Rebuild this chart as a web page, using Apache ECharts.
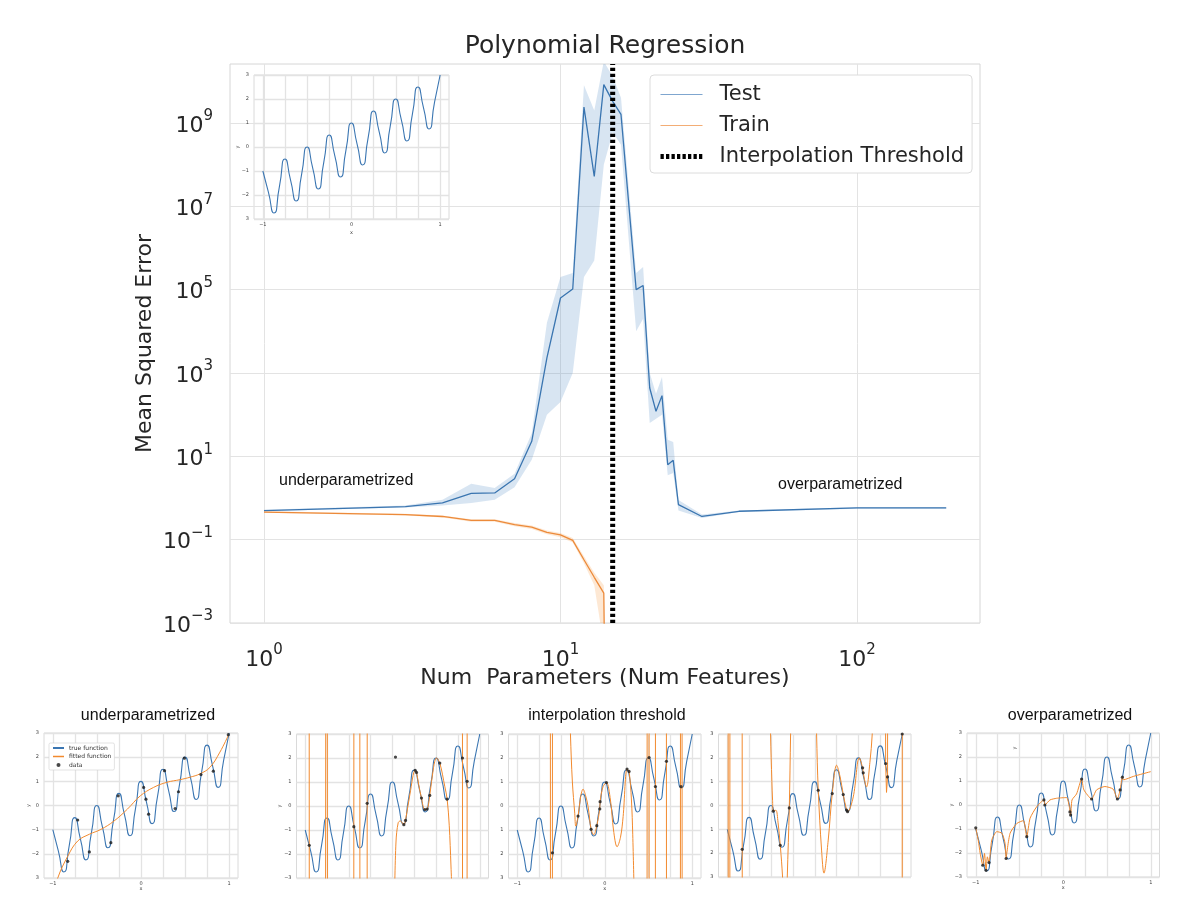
<!doctype html>
<html>
<head>
<meta charset="utf-8">
<title>Polynomial Regression</title>
<script src="https://cdn.jsdelivr.net/npm/echarts@6/dist/echarts.min.js"></script>
<style>
  html, body { margin: 0; padding: 0; background: #fff; }
  #main { width: 1200px; height: 911px; }
</style>
</head>
<body>
<div id="main"></div>
<script>
// ---- main plot: MSE vs number of parameters ----
var testX = [1, 3, 4, 5, 6, 7, 8, 9, 10, 11, 12, 13, 14, 15, 16, 18, 19, 20, 21, 22, 23, 24, 25, 30, 40, 100, 200];
var testY = [0.50, 0.62, 0.76, 1.29, 1.32, 2.9, 22.9, 2300, 6.3e4, 1.04e5, 2.4e9, 5.2e7, 8.3e9, 3.3e9, 1.6e9, 1.0e5, 1.26e5, 436, 120, 286, 6.3, 8, 0.69, 0.36, 0.48, 0.58, 0.58];
var testLow = [0.48, 0.59, 0.66, 0.76, 0.91, 1.8, 8.3, 100, 200, 1e3, 2e5, 5e5, 1e8, 6e8, 3e8, 1e4, 2e4, 63, 80, 100, 3.5, 4, 0.5, 0.33, 0.46, 0.55, 0.55];
var testHigh = [0.52, 0.66, 0.91, 2.2, 1.74, 3.8, 36, 1.6e4, 2e5, 2.5e5, 8e9, 2e9, 3e10, 1.3e10, 4e9, 2.5e5, 3.5e5, 1e3, 316, 800, 25, 22, 0.9, 0.4, 0.5, 0.6, 0.6];

var trainX = [1, 3, 4, 5, 6, 7, 8, 9, 10, 11, 12, 13, 14, 15];
var trainY = [0.46, 0.40, 0.36, 0.29, 0.29, 0.23, 0.20, 0.15, 0.13, 0.096, 0.033, 0.0125, 0.0052, 1e-20];
var trainLow = [0.44, 0.38, 0.34, 0.27, 0.27, 0.21, 0.18, 0.135, 0.115, 0.085, 0.027, 0.008, 0.0003, 1e-25];
var trainHigh = [0.48, 0.42, 0.38, 0.31, 0.31, 0.25, 0.22, 0.165, 0.145, 0.11, 0.04, 0.016, 0.008, 1e-15];

var thresholdX = 15;
var mainXRange = [0.768, 260];
var mainYRange = [1e-3, 2.6e10];
var mainXTicks = [1, 10, 100];
var mainYTicks = [1e-3, 1e-1, 1e1, 1e3, 1e5, 1e7, 1e9];

// ---- small plots: true function, fits and data ----
var trueX = [-1, -0.9375, -0.875, -0.8125, -0.75, -0.6875, -0.625, -0.5625, -0.5, -0.4375, -0.375, -0.3125, -0.25, -0.1875, -0.125, -0.0625, 0,
             0.0625, 0.125, 0.1875, 0.25, 0.3125, 0.375, 0.4375, 0.5, 0.5625, 0.625, 0.6875, 0.75, 0.8125, 0.875, 0.9375, 1];
var trueY = [-1, -1.88, -2.75, -1.63, -0.5, -1.38, -2.25, -1.13, 0, -0.88, -1.75, -0.63, 0.5, -0.38, -1.25, -0.13, 1,
             0.13, -0.75, 0.38, 1.5, 0.63, -0.25, 0.88, 2, 1.13, 0.25, 1.38, 2.5, 1.63, 0.75, 1.88, 3];

var fit1X = [-0.98, -0.944, -0.831, -0.718, -0.586, -0.455, -0.305, -0.154, -0.008, 0.143, 0.293, 0.444, 0.556, 0.669, 0.782, 0.895, 0.99];
var fit1Y = [-3.6, -3.0, -2.1, -1.47, -1.19, -0.99, -0.64, -0.15, 0.40, 0.75, 0.96, 1.07, 1.17, 1.31, 1.58, 2.21, 2.9];
var dots1X = [-0.831, -0.718, -0.586, -0.342, -0.259, 0.03, 0.056, 0.086, 0.267, 0.387, 0.425, 0.492, 0.68, 0.82, 0.99];
var dots1Y = [-2.31, -0.60, -1.92, -1.54, 0.40, 0.75, 0.26, -0.36, 1.44, -0.125, 0.57, 1.96, 1.28, 1.42, 2.93];

var spikes2X = [-0.958, -0.950, null, -0.776, -0.756, -0.736, null, -0.447, -0.439, null, -0.378, -0.370, null, -0.294, -0.286, null, 0.798, 0.806, null, 0.851, 0.859];
var spikes2Y = [40, -40, null, -40, 40, -40, null, -40, 40, null, 40, -40, null, -40, 40, null, 40, -40, null, -40, 40];
var fit2X = [0.022, 0.04, 0.065, 0.09, 0.13, 0.149, 0.2, 0.26, 0.275, 0.30, 0.332, 0.37, 0.397, 0.427, 0.47, 0.504, 0.542, 0.60, 0.626, 0.65, 0.67, 0.69];
var fit2Y = [-4, -1.5, -0.7, -0.62, -0.78, -0.6, 0.5, 1.49, 1.40, 0.9, 0.33, -0.15, -0.13, 0.44, 1.6, 2.0, 1.79, 0.8, 0.29, -0.8, -2.5, -4.5];
var dots2X = [-0.954, -0.443, -0.29, 0.034, 0.13, 0.149, 0.26, 0.275, 0.332, 0.37, 0.397, 0.427, 0.542, 0.626, 0.802, 0.855];
var dots2Y = [-1.64, -0.86, 0.11, 2.04, -0.78, -0.6, 1.49, 1.40, 0.33, -0.15, -0.13, 0.44, 1.79, 0.29, 2.0, 1.03];

var spikes3X = [-0.625, -0.617, null, -0.602, -0.594, null, 0.480, 0.488, null, 0.503, 0.511, null, 0.575, 0.583, null, 0.701, 0.709, null, 0.861, 0.869, null, 0.880, 0.888];
var spikes3Y = [40, -40, null, -40, 40, null, -40, 40, null, 40, -40, null, -40, 40, null, 40, -40, null, -40, 40, null, 40, -40];
var fit3X = [-0.40, -0.392, -0.37, -0.343, -0.331, -0.305, -0.275, -0.248, -0.22, -0.19, -0.156, -0.126, -0.091, -0.057, -0.053, -0.02, 0.019, 0.065, 0.10, 0.141, 0.18, 0.21, 0.255, 0.278, 0.305, 0.32, 0.335];
var fit3Y = [4.5, 3.0, 1.0, -0.3, -0.84, -0.42, 0.4, 0.70, 0.45, -0.03, -0.97, -1.2, -0.82, -0.12, 0.18, 0.8, 0.98, 0.25, -1.0, -1.7, -1.3, -0.44, 1.54, 1.44, 0.25, -1.2, -3.5];
var dots3X = [-0.598, -0.305, -0.156, -0.091, -0.057, -0.053, 0.019, 0.255, 0.278, 0.507, 0.579, 0.705, 0.872];
var dots3Y = [-1.95, -0.42, -0.97, -0.82, -0.12, 0.18, 0.98, 1.54, 1.44, 2.02, 0.81, 1.86, 0.81];

var spikes4X = [-0.993, -0.985, null, -0.974, -0.966, null, -0.833, -0.825, null, 0.800, 0.810, 0.820, 0.832, 0.842, null, 0.997, 1.003];
var spikes4Y = [40, -40, null, -40, 40, null, 40, -40, null, 40, 1.76, 0.55, 1.20, 40, null, -40, 40];
var fit4X = [-0.512, -0.505, -0.49, -0.482, -0.474, -0.444, -0.42, -0.394, -0.368, -0.36, null,
             -0.32, -0.314, -0.291, -0.276, -0.27, null,
             0.015, 0.021, 0.04, 0.078, 0.105, 0.154, 0.2, 0.25, 0.29, 0.326, 0.364, 0.375, 0.44, 0.509, 0.547, 0.554, 0.592, 0.63, 0.657, 0.67];
var fit4Y = [5, 3, 1.0, 0.22, -0.24, -0.2, -0.7, -1.67, -3.0, -4, null,
             -4, -3, -0.1, 3, 4, null,
             4.5, 3, 0.64, -1.87, -2.84, -1.45, 0.5, 1.69, 1.2, 0.46, -0.19, -0.26, 0.36, 2.0, 1.58, 1.37, 0.78, 1.8, 3, 4.5];
var dots4X = [-0.829, -0.474, -0.394, -0.291, 0.040, 0.200, 0.326, 0.364, 0.375, 0.547, 0.554, 0.810, 0.832, 1.0];
var dots4Y = [-1.84, -0.24, -1.67, -0.10, 0.64, 0.50, 0.46, -0.19, -0.26, 1.58, 1.37, 1.76, 1.20, 3.0];

var fit5X = [-1, -0.97, -0.95, -0.92, -0.9, -0.882, -0.867, -0.848, -0.817, -0.76, -0.70, -0.665, -0.653, -0.645, -0.608, -0.531, -0.455, -0.417, -0.379, -0.303,
             -0.221, -0.21, -0.152, -0.076, 0.038, 0.069, 0.084, 0.1, 0.152, 0.21, 0.236, 0.324, 0.381, 0.476, 0.571, 0.619, 0.65, 0.676, 0.688, 0.8, 1.0];
var fit5Y = [-0.95, -1.5, -2.0, -2.51, -2.02, -2.72, -2.16, -2.4, -1.46, -1.11, -1.18, -1.6, -2.23, -2.23, -1.18, -0.77, -0.65, -1.32, -0.55, -0.07,
             0.21, 0.0, 0.21, 0.28, 0.31, -0.07, -0.42, 0.21, 0.46, 1.08, 0.63, 0.25, 0.63, 0.77, 0.66, 0.25, 0.63, 1.16, 1.05, 1.19, 1.39];
var dots5X = [-1, -0.92, -0.882, -0.848, -0.653, -0.417, -0.221, -0.21, 0.076, 0.084, 0.21, 0.324, 0.619, 0.65, 0.676];
var dots5Y = [-0.95, -2.51, -2.72, -2.4, -2.23, -1.32, 0.21, 0.0, -0.29, -0.42, 1.08, 0.25, 0.25, 0.63, 1.16];

var panelXRange = [-1.1, 1.1];
var panelYRange = [-3, 3];
var panelXTicks = [-1, -0.75, -0.5, -0.25, 0, 0.25, 0.5, 0.75, 1];
var panelXLabelValues = [-1, 0, 1];
var panelXLabels = ['\u22121', '0', '1'];
var panelYTicks = [-3, -2, -1, 0, 1, 2, 3];
var yLabelsA = ['3', '\u22122', '\u22121', '0', '1', '2', '3'];
var yLabelsB = ['\u22123', '\u22122', '\u22121', '0', '1', '2', '3'];
var yLabelsC = ['3', '2', '1', '0', '1', '2', '3'];

var BLUE = '#3b76b2';
var ORANGE = '#f28a2e';
var INK = '#262626';
var GRIDC = '#e3e3e3';

function zip(xs, ys) {
    var out = [];
    for (var i = 0; i < xs.length; i++) {
        out.push(xs[i] === null ? [null, null] : [xs[i], ys[i]]);
    }
    return out;
}

function powLabel(v) {
    var e = Math.round(Math.log(v) / Math.LN10);
    return '{b|10}{s|' + (e < 0 ? '\u2212' + (-e) : e) + '}';
}
var supRich = {
    b: { fontSize: 22, color: INK, fontFamily: 'DejaVu Sans', lineHeight: 28, verticalAlign: 'bottom' },
    s: { fontSize: 15, color: INK, fontFamily: 'DejaVu Sans', lineHeight: 16, verticalAlign: 'top' }
};

function bandSeries(name, xs, lo, hi, color) {
    return {
        type: 'custom', name: name, xAxisIndex: 0, yAxisIndex: 0, silent: true, z: 1,
        data: [[xs[0], lo[0]]],
        renderItem: function (params, api) {
            var pts = [];
            for (var i = 0; i < xs.length; i++) pts.push(api.coord([xs[i], hi[i]]));
            for (var j = xs.length - 1; j >= 0; j--) pts.push(api.coord([xs[j], lo[j]]));
            var cs = params.coordSys;
            return {
                type: 'polygon', shape: { points: pts },
                style: { fill: color, opacity: 0.22 },
                clipPath: { type: 'rect', shape: { x: cs.x, y: cs.y, width: cs.width, height: cs.height } }
            };
        }
    };
}

// grid boxes: 0 main, 1 inset, 2..6 bottom panels
var grids = [
    { left: 230, top: 64, width: 750, height: 559 },
    { left: 254, top: 75, width: 195, height: 144 },
    { left: 44, top: 733, width: 194, height: 145 },
    { left: 296.5, top: 734, width: 192, height: 144 },
    { left: 508.5, top: 734, width: 192.5, height: 144 },
    { left: 718.5, top: 734, width: 192.5, height: 143 },
    { left: 967, top: 733, width: 192.5, height: 144 }
];
grids.forEach(function (g, i) {
    g.show = true;
    g.backgroundColor = i === 0 ? 'transparent' : '#fff';
    g.borderColor = i === 0 ? '#d6d6d6' : '#dadada';
    g.borderWidth = 1;
    g.containLabel = false;
    g.outerBoundsMode = 'none';
});

function panelX(gi, withLabels, name, gap) {
    return {
        gridIndex: gi, type: 'value', min: panelXRange[0], max: panelXRange[1],
        axisLine: { show: false },
        axisTick: { show: false, customValues: panelXTicks },
        axisLabel: {
            show: withLabels, customValues: panelXLabelValues, fontSize: 5, color: '#444', margin: 3,
            formatter: function (v) { return panelXLabels[panelXLabelValues.indexOf(v)]; }
        },
        splitLine: { show: true, lineStyle: { color: GRIDC, width: 1.3 } },
        name: name || '', nameLocation: 'middle', nameGap: gap || 9, nameMoveOverlap: false,
        nameTextStyle: { fontSize: 5, color: '#444' }
    };
}
function panelY(gi, labels, name, gap) {
    return {
        gridIndex: gi, type: 'value', min: panelYRange[0], max: panelYRange[1], interval: 1,
        axisLine: { show: false }, axisTick: { show: false },
        axisLabel: {
            fontSize: 5, color: '#444', margin: 5,
            formatter: function (v) { return labels[panelYTicks.indexOf(v)]; }
        },
        splitLine: { show: true, lineStyle: { color: GRIDC, width: 1.3 } },
        name: name || '', nameLocation: 'middle', nameGap: gap || 12, nameRotate: 90, nameMoveOverlap: false,
        nameTextStyle: { fontSize: 5, color: '#444' }
    };
}

var xAxes = [
    {
        gridIndex: 0, type: 'log', logBase: 10, min: mainXRange[0], max: mainXRange[1],
        axisLine: { show: false },
        axisTick: { show: false, customValues: mainXTicks },
        axisLabel: { customValues: mainXTicks, formatter: powLabel, rich: supRich, margin: 20 },
        splitLine: { show: true, lineStyle: { color: GRIDC, width: 1 } },
        name: 'Num  Parameters (Num Features)', nameLocation: 'middle', nameGap: 44, nameMoveOverlap: false,
        nameTextStyle: { fontSize: 22, color: INK, fontFamily: 'DejaVu Sans' }
    },
    panelX(1, true, 'x', 11),
    panelX(2, true, 'x', 8),
    panelX(3, false),
    panelX(4, true, 'x', 8),
    panelX(5, false),
    panelX(6, true, 'x', 8)
];
var yAxes = [
    {
        gridIndex: 0, type: 'log', logBase: 10, min: mainYRange[0], max: mainYRange[1],
        axisLine: { show: false },
        axisTick: { show: false, customValues: mainYTicks },
        axisLabel: { customValues: mainYTicks, formatter: powLabel, rich: supRich, margin: 17 },
        splitLine: { show: true, lineStyle: { color: GRIDC, width: 1 } },
        name: 'Mean Squared Error', nameLocation: 'middle', nameGap: 74, nameMoveOverlap: false,
        nameTextStyle: { fontSize: 22, color: INK, fontFamily: 'DejaVu Sans' }
    },
    panelY(1, yLabelsA, 'y', 14),
    panelY(2, yLabelsA, 'y', 13),
    panelY(3, yLabelsB, 'y', 14),
    panelY(4, yLabelsC),
    panelY(5, yLabelsC),
    panelY(6, yLabelsB, 'y', 13)
];

function trueLine(gi, name) {
    return {
        type: 'line', name: name, xAxisIndex: gi, yAxisIndex: gi, data: zip(trueX, trueY),
        smooth: 0.7, symbol: 'none', lineStyle: { color: BLUE, width: 1.1 }, itemStyle: { color: BLUE }, z: 3
    };
}
function fitLine(gi, name, xs, ys, smooth) {
    return {
        type: 'line', name: name, xAxisIndex: gi, yAxisIndex: gi, data: zip(xs, ys),
        smooth: smooth, connectNulls: false, symbol: 'none',
        lineStyle: { color: ORANGE, width: 1 }, itemStyle: { color: ORANGE }, z: 4
    };
}
function dots(gi, name, xs, ys) {
    return {
        type: 'scatter', name: name, xAxisIndex: gi, yAxisIndex: gi, data: zip(xs, ys),
        symbolSize: 3.2, itemStyle: { color: '#1a1a1a' }, z: 5
    };
}

var series = [
    bandSeries('testBand', testX, testLow, testHigh, '#4c88c4'),
    bandSeries('trainBand', trainX, trainLow, trainHigh, '#f5963a'),
    {
        type: 'line', name: 'Test', xAxisIndex: 0, yAxisIndex: 0, data: zip(testX, testY),
        symbol: 'none', lineStyle: { color: '#3a75b0', width: 1.3 }, itemStyle: { color: '#6d9bc8' }, z: 3
    },
    {
        type: 'line', name: 'Train', xAxisIndex: 0, yAxisIndex: 0, data: zip(trainX, trainY),
        symbol: 'none', lineStyle: { color: '#ec8a3a', width: 1.3 }, itemStyle: { color: '#f0a060' }, z: 3
    },
    {
        type: 'line', name: 'Interpolation Threshold', xAxisIndex: 0, yAxisIndex: 0,
        data: [[thresholdX, mainYRange[0]], [thresholdX, mainYRange[1]]],
        symbol: 'none', lineStyle: { color: '#000', width: 5, type: [3.3, 2.7], cap: 'butt' },
        itemStyle: { color: '#000' }, z: 6
    },
    trueLine(1, 'inset'),

    trueLine(2, 'true function'),
    fitLine(2, 'fitted function', fit1X, fit1Y, 0.4),
    dots(2, 'data', dots1X, dots1Y),

    trueLine(3, 'true 2'),
    fitLine(3, 'spikes 2', spikes2X, spikes2Y, false),
    fitLine(3, 'fit 2', fit2X, fit2Y, 0.35),
    dots(3, 'data 2', dots2X, dots2Y),

    trueLine(4, 'true 3'),
    fitLine(4, 'spikes 3', spikes3X, spikes3Y, false),
    fitLine(4, 'fit 3', fit3X, fit3Y, 0.35),
    dots(4, 'data 3', dots3X, dots3Y),

    trueLine(5, 'true 4'),
    fitLine(5, 'spikes 4', spikes4X, spikes4Y, false),
    fitLine(5, 'fit 4', fit4X, fit4Y, 0.35),
    dots(5, 'data 4', dots4X, dots4Y),

    trueLine(6, 'true 5'),
    fitLine(6, 'fit 5', fit5X, fit5Y, 0.2),
    dots(6, 'data 5', dots5X, dots5Y)
];

function label(text, x, y, size, align) {
    return {
        type: 'text', x: x, y: y, silent: true, z: 50,
        style: { text: text, font: size + 'px "Liberation Sans", Arial, sans-serif', fill: '#111', align: align || 'left', verticalAlign: 'middle' }
    };
}

var hideSymbol = { opacity: 0 };

var option = {
    animation: false,
    backgroundColor: '#fff',
    textStyle: { fontFamily: 'DejaVu Sans' },
    title: {
        text: 'Polynomial Regression', left: 600, top: 29, textAlign: 'center',
        textStyle: { fontSize: 25, fontWeight: 'normal', color: INK, fontFamily: 'DejaVu Sans' }
    },
    legend: [
        {
            data: [
                { name: 'Test', itemStyle: hideSymbol, lineStyle: { color: '#7fa6cf', width: 1.2 } },
                { name: 'Train', itemStyle: hideSymbol, lineStyle: { color: '#f3ad75', width: 1.2 } },
                { name: 'Interpolation Threshold', itemStyle: hideSymbol, lineStyle: { color: '#000', width: 5, type: [3.3, 2.2] } }
            ],
            orient: 'vertical', left: 650, top: 75, padding: [9, 8, 6, 8],
            itemWidth: 42, itemHeight: 14, itemGap: 10,
            backgroundColor: '#fff', borderColor: '#dcdcdc', borderWidth: 1, borderRadius: 4,
            textStyle: { fontSize: 21, color: INK, fontFamily: 'DejaVu Sans', padding: [0, 0, 0, 12] },
            selectedMode: false
        },
        {
            data: [
                { name: 'true function', itemStyle: hideSymbol },
                { name: 'fitted function', itemStyle: hideSymbol, lineStyle: { width: 1.5 } },
                'data'
            ],
            orient: 'vertical', left: 49, top: 743, padding: [2, 3, 2, 3],
            itemWidth: 11, itemHeight: 4, itemGap: 2.5,
            backgroundColor: '#fff', borderColor: '#d0d0d0', borderWidth: 0.6, borderRadius: 1.5,
            textStyle: { fontSize: 6, color: '#333' },
            selectedMode: false
        }
    ],
    grid: grids,
    xAxis: xAxes,
    yAxis: yAxes,
    series: series,
    graphic: [
        label('underparametrized', 279, 481, 16),
        label('overparametrized', 778, 485, 16),
        label('underparametrized', 148, 716, 16, 'center'),
        label('interpolation threshold', 607, 716, 16, 'center'),
        label('overparametrized', 1070, 716, 16, 'center'),
        { type: 'text', x: 1015, y: 748, rotation: Math.PI / 2, silent: true,
          style: { text: 'y', font: '5px "DejaVu Sans"', fill: '#444', align: 'center', verticalAlign: 'middle' } }
    ]
};

var myChart = echarts.init(document.getElementById('main'));
myChart.setOption(option);
</script>
</body>
</html>
